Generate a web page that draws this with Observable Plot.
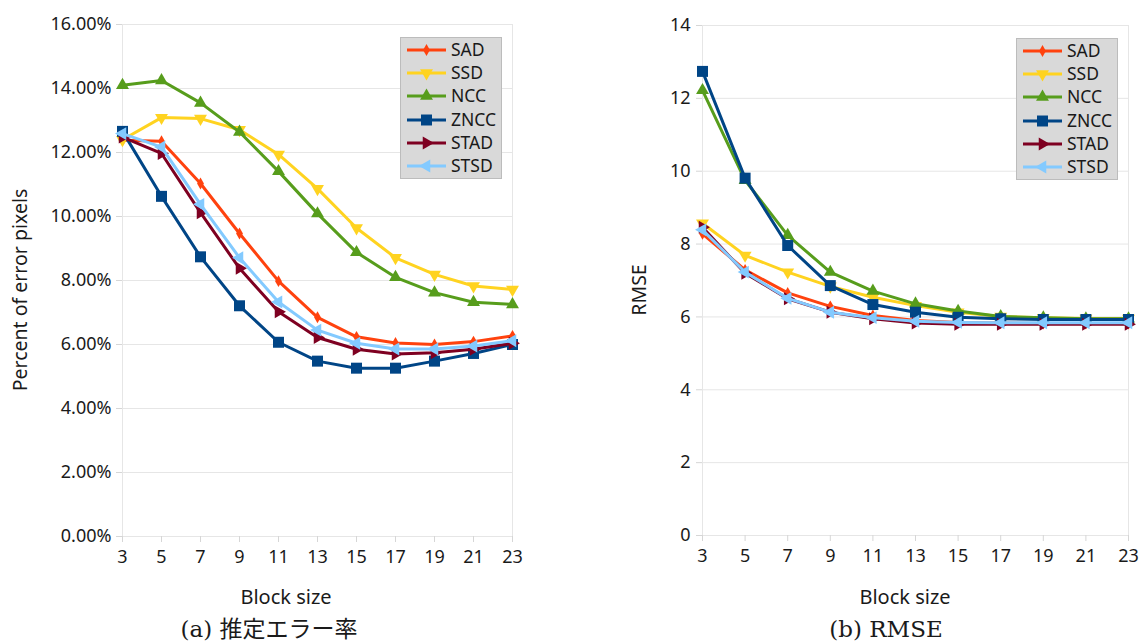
<!DOCTYPE html>
<html><head><meta charset="utf-8">
<script src="https://cdn.jsdelivr.net/npm/d3@7"></script>
<script src="https://cdn.jsdelivr.net/npm/@observablehq/plot@0.6"></script>
<style>
body{margin:0;background:#fff;}
#root{position:relative;width:1143px;height:644px;overflow:hidden;font-family:"Noto Sans",sans-serif;color:#1a1a1a;}
.abs{position:absolute;}
.title{font-size:20px;line-height:1;white-space:nowrap;transform:translate(-50%,-50%);}
.vtitle{font-size:19.5px;line-height:1;white-space:nowrap;transform:translate(-50%,-50%) rotate(-90deg);}
.caption{font-family:"DejaVu Serif","Noto Sans CJK JP",serif;font-size:23px;line-height:1;white-space:nowrap;transform:translate(-50%,-50%);}
.legend{background:#d9d9d9;border:1px solid #bcbcbc;box-sizing:border-box;}
.legrow{position:absolute;left:0;height:20px;display:flex;align-items:center;font-size:17.5px;white-space:nowrap;}
</style></head><body><div id="root"></div><script>
// ---- data ----
const blockSizes = [3, 5, 7, 9, 11, 13, 15, 17, 19, 21, 23];
const seriesNames = ["SAD", "SSD", "NCC", "ZNCC", "STAD", "STSD"];

// (a) percent of error pixels (%)
const errSAD  = [12.38, 12.35, 11.03, 9.47, 7.98, 6.85, 6.24, 6.05, 6.00, 6.09, 6.27];
const errSSD  = [12.40, 13.09, 13.06, 12.71, 11.94, 10.87, 9.64, 8.71, 8.19, 7.83, 7.72];
const errNCC  = [14.10, 14.25, 13.55, 12.64, 11.41, 10.09, 8.88, 8.10, 7.62, 7.32, 7.25];
const errZNCC = [12.66, 10.63, 8.74, 7.21, 6.07, 5.48, 5.26, 5.26, 5.48, 5.72, 6.00];
const errSTAD = [12.48, 11.97, 10.12, 8.38, 7.02, 6.22, 5.85, 5.70, 5.74, 5.85, 6.04];
const errSTSD = [12.59, 12.17, 10.38, 8.71, 7.33, 6.45, 6.04, 5.86, 5.86, 5.95, 6.12];

// (b) RMSE
const rmseSAD  = [8.28, 7.29, 6.66, 6.29, 6.04, 5.90, 5.85, 5.83, 5.82, 5.82, 5.82];
const rmseSSD  = [8.57, 7.69, 7.23, 6.84, 6.54, 6.31, 6.13, 6.01, 5.98, 5.96, 5.96];
const rmseNCC  = [12.22, 9.75, 8.24, 7.23, 6.71, 6.36, 6.16, 6.01, 5.98, 5.95, 5.95];
const rmseZNCC = [12.74, 9.81, 7.96, 6.86, 6.34, 6.13, 5.99, 5.95, 5.93, 5.93, 5.93];
const rmseSTAD = [8.46, 7.20, 6.50, 6.13, 5.95, 5.83, 5.80, 5.80, 5.80, 5.80, 5.80];
const rmseSTSD = [8.39, 7.23, 6.51, 6.13, 5.98, 5.88, 5.85, 5.84, 5.84, 5.84, 5.84];

const errTicks = [0, 2, 4, 6, 8, 10, 12, 14, 16];
const rmseTicks = [0, 2, 4, 6, 8, 10, 12, 14];

const xTitle = "Block size";
const yTitleA = "Percent of error pixels";
const yTitleB = "RMSE";
const captionA = "(a) 推定エラー率";
const captionB = "(b) RMSE";

// ---- styles ----
const seriesColors = ["#ff420e", "#ffd320", "#579d1c", "#004586", "#7e0021", "#83caff"];
const seriesSymbols = ["diamond", "triangle", "triangle", "square", "triangle", "triangle"];
const seriesRotate = [0, 180, 0, 0, 90, -90];
const seriesR = [3.6, 4.8, 4.8, 6.2, 4.8, 4.8];
const d3Sym = {diamond: d3.symbolDiamond, triangle: d3.symbolTriangle, square: d3.symbolSquare};
const gridColor = "#e6e6e6";

function buildRows(valueArrays) {
  const rows = [];
  seriesNames.forEach((s, i) => valueArrays[i].forEach((v, j) => rows.push({series: s, x: blockSizes[j], y: v})));
  return rows;
}

function chart({values, yTicks, yFormat, width, height, mLeft, mRight, mTop, mBottom, yPad}) {
  const rows = buildRows(values);
  const marks = [
    Plot.gridY({ticks: yTicks, stroke: gridColor, strokeOpacity: 1}),
    Plot.ruleX([blockSizes[0], blockSizes[blockSizes.length - 1]], {stroke: gridColor}),
    Plot.axisY({ticks: yTicks, tickSize: 6, tickPadding: yPad, stroke: "#d6d6d6", strokeOpacity: 1, fill: "#1a1a1a", tickFormat: yFormat, label: null}),
    Plot.axisX({ticks: blockSizes, tickSize: 6, tickPadding: 8, stroke: "#d6d6d6", strokeOpacity: 1, fill: "#1a1a1a", tickFormat: d => String(d), label: null})
  ];
  seriesNames.forEach((s, i) => {
    const d = rows.filter(r => r.series === s);
    marks.push(Plot.line(d, {x: "x", y: "y", stroke: seriesColors[i], strokeWidth: 3}));
    marks.push(Plot.dot(d, {x: "x", y: "y", symbol: seriesSymbols[i], r: seriesR[i], fill: seriesColors[i], stroke: "none", rotate: seriesRotate[i]}));
  });
  return Plot.plot({
    width, height,
    marginLeft: mLeft, marginRight: mRight, marginTop: mTop, marginBottom: mBottom,
    x: {type: "linear", domain: [blockSizes[0], blockSizes[blockSizes.length - 1]]},
    y: {type: "linear", domain: [yTicks[0], yTicks[yTicks.length - 1]]},
    style: {fontFamily: "Noto Sans", fontSize: "18px", background: "transparent", overflow: "visible"},
    marks
  });
}

function legend(left, top) {
  const box = document.createElement("div");
  box.className = "abs legend";
  Object.assign(box.style, {left: left + "px", top: top + "px", width: "102px", height: "142px"});
  seriesNames.forEach((s, i) => {
    const row = document.createElement("div");
    row.className = "legrow";
    row.style.top = (2 + i * 23.2) + "px";
    const svg = d3.create("svg").attr("width", 50).attr("height", 20).style("flex", "none");
    svg.append("line").attr("x1", 6).attr("x2", 45).attr("y1", 10).attr("y2", 10)
      .attr("stroke", seriesColors[i]).attr("stroke-width", 3);
    svg.append("path")
      .attr("d", d3.symbol(d3Sym[seriesSymbols[i]], seriesR[i] * seriesR[i] * Math.PI)())
      .attr("transform", `translate(25.5,10) rotate(${seriesRotate[i]})`)
      .attr("fill", seriesColors[i]);
    row.appendChild(svg.node());
    const t = document.createElement("span");
    t.textContent = s;
    t.style.marginTop = "-2px";
    row.appendChild(t);
    box.appendChild(row);
  });
  return box;
}

function place(node, left, top) {
  node.style.position = "absolute";
  node.style.left = left + "px";
  node.style.top = top + "px";
  return node;
}
function label(text, cls, x, y) {
  const d = document.createElement("div");
  d.className = "abs " + cls;
  d.textContent = text;
  d.style.left = x + "px";
  d.style.top = y + "px";
  return d;
}

const root = document.getElementById("root");

const left = chart({
  values: [errSAD, errSSD, errNCC, errZNCC, errSTAD, errSTSD],
  yTicks: errTicks, yFormat: d => d.toFixed(2) + "%",
  width: 560, height: 580, mLeft: 122, mRight: 48, mTop: 24, mBottom: 44, yPad: 5
});
root.appendChild(place(left, 0, 0));

const right = chart({
  values: [rmseSAD, rmseSSD, rmseNCC, rmseZNCC, rmseSTAD, rmseSTSD],
  yTicks: rmseTicks, yFormat: d => String(d),
  width: 573, height: 580, mLeft: 132, mRight: 15, mTop: 25, mBottom: 45, yPad: 6
});
root.appendChild(place(right, 570, 0));

root.appendChild(legend(400, 37));
root.appendChild(legend(1016, 38));

root.appendChild(label(yTitleA, "vtitle", 20, 290));
root.appendChild(label(yTitleB, "vtitle", 639, 290));
root.appendChild(label(xTitle, "title", 286, 597));
root.appendChild(label(xTitle, "title", 905, 597));
root.appendChild(label(captionA, "caption", 269, 629));
root.appendChild(label(captionB, "caption", 886, 629));
</script></body></html>
